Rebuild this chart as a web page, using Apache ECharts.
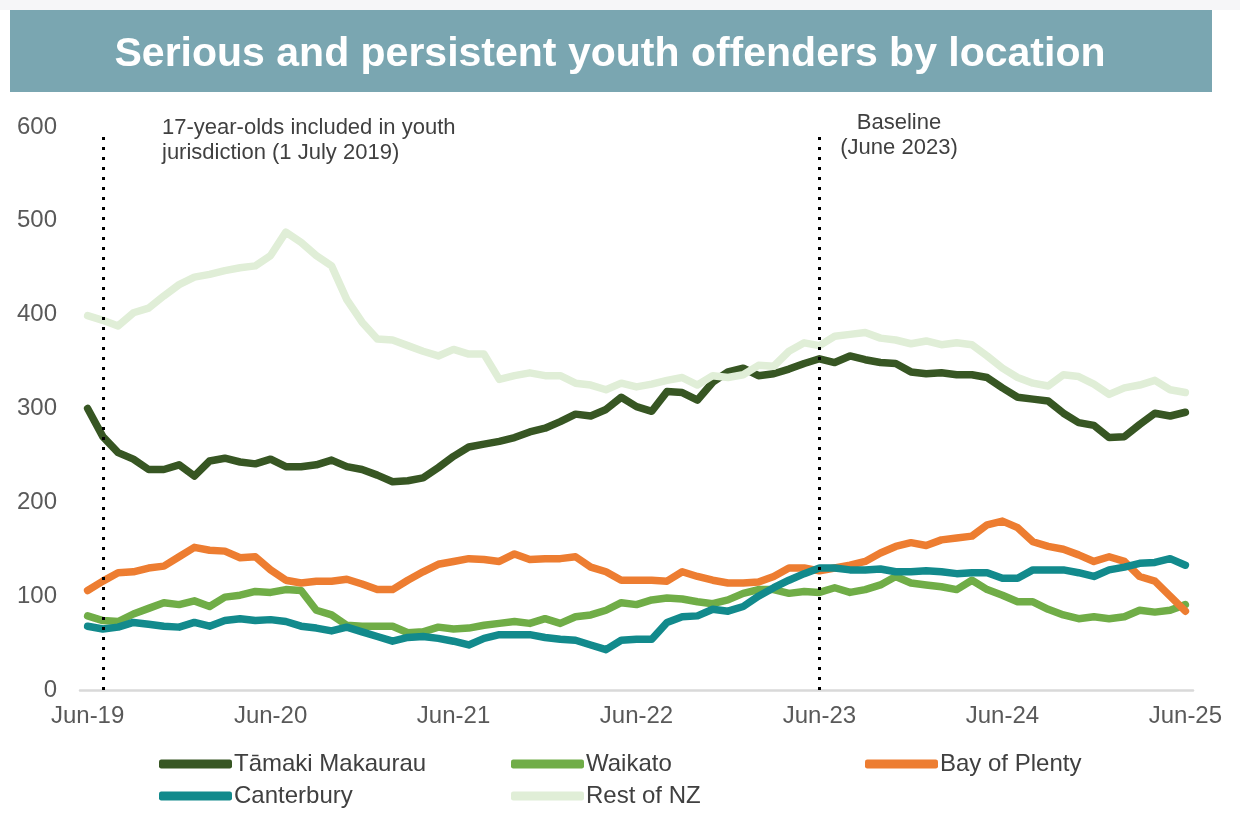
<!DOCTYPE html>
<html>
<head>
<meta charset="utf-8">
<script src="https://cdn.jsdelivr.net/npm/echarts@6/dist/echarts.min.js"></script>
<style>
  html, body { margin: 0; padding: 0; background: #fff; }
  #chart { width: 1240px; height: 834px; }
</style>
</head>
<body>
<div id="chart"></div>
<script>
const FONT = '"Liberation Sans", Arial, sans-serif';

// monthly, Jun-19 .. Jun-25
const MONTHS = ["Jan", "Feb", "Mar", "Apr", "May", "Jun", "Jul", "Aug", "Sep", "Oct", "Nov", "Dec"];
const categories = [];
for (let k = 0; k < 73; k++) {
  const m = (5 + k) % 12;
  const y = 19 + Math.floor((5 + k) / 12);
  categories.push(MONTHS[m] + "-" + y);
}

const tamaki = [
  300, 270, 253, 246, 235, 235, 240, 228, 244, 247, 243, 241, 246, 238, 238, 240, 245, 238,
  235, 229, 222, 223, 226, 237, 249, 259, 262, 265, 269, 275, 279, 286, 294, 292, 299, 312,
  302, 297, 318, 317, 309, 328, 339, 343, 335, 337, 342, 348, 353, 349, 356, 352, 349, 348,
  339, 337, 338, 336, 336, 333, 322, 312, 310, 308, 295, 285, 282, 269, 270, 283, 295, 292, 296
];
const waikato = [
  79, 74, 73, 81, 87, 93, 91, 95, 89, 99, 101, 105, 104, 107, 106, 85, 80, 69,
  68, 68, 68, 61, 62, 67, 65, 66, 69, 71, 73, 71, 76, 71, 78, 80, 85, 93,
  91, 96, 98, 97, 94, 92, 96, 103, 107, 107, 103, 105, 104, 109, 104, 107, 112, 121,
  114, 112, 110, 107, 117, 107, 101, 94, 94, 86, 80, 76, 78, 76, 78, 85, 83, 85, 91
];
const bayOfPlenty = [
  106, 116, 125, 126, 130, 132, 142, 152, 149, 148, 141, 142, 128, 117, 114, 116, 116, 118,
  113, 107, 107, 117, 126, 134, 137, 140, 139, 137, 145, 139, 140, 140, 142, 131, 126, 117,
  117, 117, 116, 126, 121, 117, 114, 114, 115, 121, 130, 130, 127, 130, 133, 137, 146, 153,
  157, 154, 160, 162, 164, 176, 180, 173, 158, 153, 150, 144, 137, 142, 137, 121, 116, 100, 84
];
const canterbury = [
  68, 65, 67, 72, 70, 68, 67, 72, 68, 74, 76, 74, 75, 73, 68, 66, 63, 67,
  62, 57, 52, 56, 57, 55, 52, 48, 55, 59, 59, 59, 56, 54, 53, 48, 43, 53,
  54, 54, 72, 78, 79, 86, 84, 89, 100, 109, 117, 124, 130, 130, 128, 128, 129, 126,
  126, 127, 126, 124, 125, 125, 119, 119, 128, 128, 128, 125, 121, 128, 131, 135, 136, 140, 133
];
const restOfNZ = [
  399, 394, 388, 402, 407, 420, 432, 440, 443, 447, 450, 452, 463, 488, 477, 463, 452, 416,
  392, 374, 373, 367, 361, 356, 363, 358, 358, 331, 335, 338, 335, 335, 327, 325, 320, 327,
  323, 326, 330, 333, 325, 335, 333, 336, 346, 345, 361, 370, 367, 377, 379, 381, 375, 373,
  369, 372, 368, 370, 368, 356, 343, 333, 327, 324, 336, 334, 326, 315, 322, 325, 330, 320, 317
];

const SERIES = [
  { name: "Tāmaki Makaurau", data: tamaki, color: "#375623" },
  { name: "Waikato", data: waikato, color: "#70ad47" },
  { name: "Bay of Plenty", data: bayOfPlenty, color: "#ed7d31" },
  { name: "Canterbury", data: canterbury, color: "#128a8c" },
  { name: "Rest of NZ", data: restOfNZ, color: "#e0eed7" },
];

const chart = echarts.init(document.getElementById("chart"), null, { renderer: "canvas" });

const dotted = { color: "#000", width: 3, type: [3, 7] };

const legendBase = {
  orient: "vertical",
  top: 747,
  icon: "roundRect",
  itemWidth: 73,
  itemHeight: 9,
  itemGap: 8,
  selectedMode: false,
  textStyle: { color: "#404040", fontSize: 24, fontFamily: FONT, lineHeight: 24, padding: [0, 0, 0, -3] },
};

chart.setOption({
  backgroundColor: "#fff",
  animation: false,
  graphic: [
    { type: "rect", shape: { x: 0, y: 0, width: 1240, height: 10 }, style: { fill: "#f6f6f8" } },
    { type: "rect", shape: { x: 10, y: 10, width: 1202, height: 82 }, style: { fill: "#7aa6b1" } },
    {
      type: "text", x: 610, y: 55,
      style: {
        text: "Serious and persistent youth offenders by location",
        fill: "#fff", font: "bold 41px " + FONT, align: "center", verticalAlign: "middle",
      },
    },
    {
      type: "text", x: 162, y: 115,
      style: {
        text: "17-year-olds included in youth\njurisdiction (1 July 2019)",
        fill: "#404040", fontSize: 22, fontFamily: FONT, lineHeight: 25, align: "left", verticalAlign: "top",
      },
    },
    {
      type: "text", x: 899, y: 110,
      style: {
        text: "Baseline\n(June 2023)",
        fill: "#404040", fontSize: 22, fontFamily: FONT, lineHeight: 25, align: "center", verticalAlign: "top",
      },
    },
  ],
  legend: [
    Object.assign({}, legendBase, { left: 154, data: ["Tāmaki Makaurau", "Canterbury"] }),
    Object.assign({}, legendBase, { left: 506, data: ["Waikato", "Rest of NZ"] }),
    Object.assign({}, legendBase, { left: 860, data: ["Bay of Plenty"] }),
  ],
  grid: { left: 80, right: 47, top: 127, bottom: 144 },
  xAxis: {
    type: "category",
    data: categories,
    boundaryGap: true,
    axisLine: { lineStyle: { color: "#d9d9d9", width: 2.5 } },
    axisTick: { interval: 11, length: 8, lineStyle: { color: "#d0d0d0", width: 2 } },
    axisLabel: { interval: 11, color: "#595959", fontSize: 24, fontFamily: FONT, margin: 14 },
  },
  yAxis: {
    type: "value",
    min: 0,
    max: 600,
    interval: 100,
    axisLine: { show: false },
    axisTick: { show: false },
    splitLine: { show: false },
    axisLabel: { color: "#595959", fontSize: 24, fontFamily: FONT, margin: 23 },
  },
  series: SERIES.map((s, i) => ({
    name: s.name,
    type: "line",
    data: s.data,
    color: s.color,
    showSymbol: false,
    symbol: "none",
    lineStyle: { color: s.color, width: 7.5, cap: "round", join: "round" },
    z: 2 + i,
    markLine: i === SERIES.length - 1 ? {
      silent: true,
      symbol: "none",
      label: { show: false },
      lineStyle: dotted,
      z: 20,
      data: [
        [{ coord: ["Jul-19", 0] }, { coord: ["Jul-19", 590] }],
        [{ coord: ["Jun-23", 0] }, { coord: ["Jun-23", 590] }],
      ],
    } : undefined,
  })),
});
</script>
</body>
</html>
